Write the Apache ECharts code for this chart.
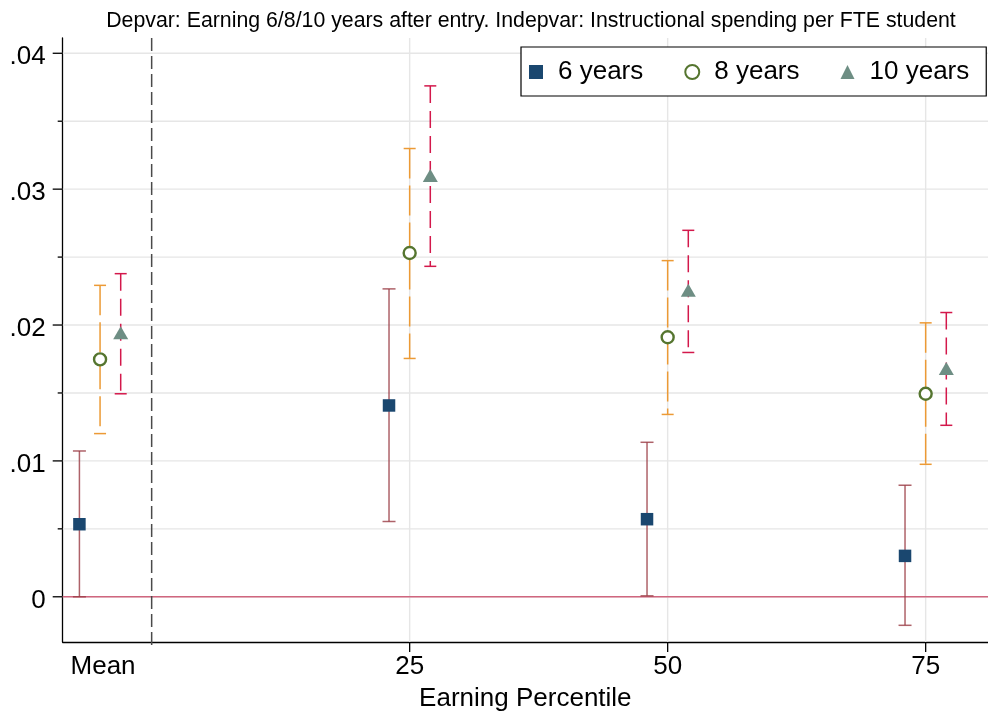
<!DOCTYPE html>
<html>
<head>
<meta charset="utf-8">
<script src="https://cdn.jsdelivr.net/npm/echarts@6/dist/echarts.min.js"></script>
<style>
html,body{margin:0;padding:0;background:#fff;overflow:hidden;}
#chart{width:988px;height:717px;}
</style>
</head>
<body>
<div id="chart"></div>
<script>
// ---- data ----
const groupLabels = ['Mean', '25', '50', '75'];
const groupX = [-5, 25, 50, 75];
const seriesNames = ['6 years', '8 years', '10 years'];
const seriesOffset = [-2, 0, 2];

const est6 = [0.00534, 0.01408, 0.00571, 0.00301];
const lo6  = [0.00000, 0.00554, 0.00007, -0.00210];
const hi6  = [0.01073, 0.02266, 0.01137, 0.00821];

const est8 = [0.01747, 0.02530, 0.01910, 0.01494];
const lo8  = [0.01201, 0.01754, 0.01342, 0.00975];
const hi8  = [0.02292, 0.03299, 0.02474, 0.02016];

const est10 = [0.01943, 0.03100, 0.02256, 0.01680];
const lo10  = [0.01494, 0.02432, 0.01798, 0.01262];
const hi10  = [0.02378, 0.03760, 0.02697, 0.02092];

const yTickVals = [0, 0.01, 0.02, 0.03, 0.04];
const yTickLabels = ['0', '.01', '.02', '.03', '.04'];
const yMinorVals = [0.005, 0.015, 0.025, 0.035];
const xTickVals = [25, 50, 75];
const refLineX = [0];
const zeroLineY = [0];

const xMin = -8.62, xMax = 81.04;
const yMin = -0.003328, yMax = 0.041124;

const titleText = 'Depvar: Earning 6/8/10 years after entry. Indepvar: Instructional spending per FTE student';
const xTitle = 'Earning Percentile';

// ---- build ----
const FONT = 'Liberation Sans, Arial, Helvetica, sans-serif';
const chart = echarts.init(document.getElementById('chart'), null, {renderer: 'canvas', width: 988, height: 717});

function xs(i) { return groupX.map(g => g + seriesOffset[i]); }
function pts(i, est) { const x = xs(i); return est.map((v, k) => [x[k], v]); }
function bars(i, lo, hi) { const x = xs(i); return lo.map((v, k) => [x[k], v, hi[k]]); }

function errRender(color, dash, cap, opacity) {
  return function (params, api) {
    const x = api.value(0), lo = api.value(1), hi = api.value(2);
    const a = api.coord([x, lo]), b = api.coord([x, hi]);
    const hw = cap / 2;
    return {
      type: 'group',
      children: [
        {type: 'line', shape: {x1: b[0], y1: b[1], x2: a[0], y2: a[1]},
         style: {stroke: color, lineWidth: 1.5, lineDash: dash, opacity: opacity}},
        {type: 'line', shape: {x1: b[0] - hw, y1: b[1], x2: b[0] + hw, y2: b[1]},
         style: {stroke: color, lineWidth: 1.5, opacity: opacity}},
        {type: 'line', shape: {x1: a[0] - hw, y1: a[1], x2: a[0] + hw, y2: a[1]},
         style: {stroke: color, lineWidth: 1.5, opacity: opacity}}
      ]
    };
  };
}

const GRID_COLOR = '#e6e6e6';

const option = {
  animation: false,
  backgroundColor: '#fff',
  title: {
    text: titleText,
    left: 526, top: 6,
    textAlign: 'center',
    textStyle: {fontFamily: FONT, fontSize: 21.3, fontWeight: 'normal', color: '#000'}
  },
  legend: {
    data: seriesNames,
    left: 521, top: 47,
    padding: [12, 17, 11, 8],
    borderColor: '#000', borderWidth: 1.2, borderRadius: 0,
    backgroundColor: '#fff',
    itemGap: 41, itemWidth: 14, itemHeight: 14,
    textStyle: {fontFamily: FONT, fontSize: 26, color: '#000', padding: [0, 0, 0, 10]}
  },
  grid: {left: 62.7, right: 0, top: 38, bottom: 74, containLabel: false},
  xAxis: {
    type: 'value', min: xMin, max: xMax,
    axisLine: {show: true, onZero: false, lineStyle: {color: '#000', width: 1.3}},
    axisTick: {show: false}, axisLabel: {show: false}, splitLine: {show: false},
    name: xTitle, nameLocation: 'middle', nameGap: 44,
    nameTextStyle: {fontFamily: FONT, fontSize: 26, color: '#000'}
  },
  yAxis: {
    type: 'value', min: yMin, max: yMax,
    axisLine: {show: true, onZero: false, lineStyle: {color: '#000', width: 1.3}},
    axisTick: {show: false}, axisLabel: {show: false}, splitLine: {show: false}
  },
  series: [
    {
      type: 'custom', silent: true, clip: false, z: 1,
      data: yTickVals.map((v, k) => [v, k, 1]).concat(yMinorVals.map(v => [v, -1, 0])),
      renderItem: function (params, api) {
        const v = api.value(0), k = api.value(1), major = api.value(2);
        const cs = params.coordSys;
        const p = api.coord([xMin, v]);
        const ch = [
          {type: 'line', shape: {x1: cs.x, y1: p[1], x2: cs.x + cs.width, y2: p[1]},
           style: {stroke: GRID_COLOR, lineWidth: 1.4}},
          {type: 'line', shape: {x1: cs.x - (major ? 10 : 5), y1: p[1], x2: cs.x, y2: p[1]},
           style: {stroke: '#000', lineWidth: 1.3}}
        ];
        if (major) {
          ch.push({type: 'text', x: cs.x - 17, y: p[1] + 4,
            style: {text: yTickLabels[k], fill: '#000', font: '26px ' + FONT,
                    align: 'right', verticalAlign: 'middle'}});
        }
        return {type: 'group', children: ch};
      }
    },
    {
      type: 'custom', silent: true, clip: false, z: 1,
      data: xTickVals.map(v => [v]),
      renderItem: function (params, api) {
        const v = api.value(0);
        const cs = params.coordSys;
        const p = api.coord([v, yMin]);
        return {type: 'group', children: [
          {type: 'line', shape: {x1: p[0], y1: cs.y, x2: p[0], y2: cs.y + cs.height},
           style: {stroke: GRID_COLOR, lineWidth: 1.4}},
          {type: 'line', shape: {x1: p[0], y1: cs.y + cs.height, x2: p[0], y2: cs.y + cs.height + 10},
           style: {stroke: '#000', lineWidth: 1.3}}
        ]};
      }
    },
    {
      type: 'custom', silent: true, clip: false, z: 3,
      data: groupX.map((v, k) => [v, k]),
      renderItem: function (params, api) {
        const v = api.value(0), k = api.value(1);
        const cs = params.coordSys;
        const p = api.coord([v, yMin]);
        return {type: 'text', x: p[0] + (k === 0 ? 3 : 0), y: cs.y + cs.height + 25,
          style: {text: groupLabels[k], fill: '#000', font: '26px ' + FONT,
                  align: 'center', verticalAlign: 'middle'}};
      }
    },
    {
      type: 'custom', silent: true, clip: false, z: 2,
      data: zeroLineY.map(v => [v]),
      renderItem: function (params, api) {
        const cs = params.coordSys;
        const p = api.coord([xMin, api.value(0)]);
        return {type: 'line', shape: {x1: cs.x, y1: p[1], x2: cs.x + cs.width, y2: p[1]},
          style: {stroke: '#d0667f', lineWidth: 1.6}};
      }
    },
    {
      type: 'custom', silent: true, clip: false, z: 2,
      data: refLineX.map(v => [v]),
      renderItem: function (params, api) {
        const cs = params.coordSys;
        const p = api.coord([api.value(0), yMin]);
        return {type: 'line', shape: {x1: p[0], y1: cs.y, x2: p[0], y2: cs.y + cs.height + 5},
          style: {stroke: '#4a4a4a', lineWidth: 1.5, lineDash: [13, 5]}};
      }
    },
    {type: 'custom', silent: true, clip: false, z: 4, data: bars(0, lo6, hi6),
     renderItem: errRender('#9a3b44', null, 13, 0.8)},
    {type: 'custom', silent: true, clip: false, z: 4, data: bars(1, lo8, hi8),
     renderItem: errRender('#ec9a35', [30, 7], 12, 1)},
    {type: 'custom', silent: true, clip: false, z: 4, data: bars(2, lo10, hi10),
     renderItem: errRender('#d3184b', [17, 8], 12, 1)},
    {name: seriesNames[0], type: 'scatter', z: 6, data: pts(0, est6),
     symbol: 'rect', symbolSize: 12.5, itemStyle: {color: '#1a476f', opacity: 1}},
    {name: seriesNames[1], type: 'scatter', z: 6, data: pts(1, est8),
     symbol: 'circle', symbolSize: 12, itemStyle: {color: '#ffffff', borderColor: '#55752f', borderWidth: 2.4, opacity: 1}},
    {name: seriesNames[2], type: 'scatter', z: 6, data: pts(2, est10),
     symbol: 'triangle', symbolSize: [15, 13], itemStyle: {color: '#6e8e84', opacity: 1}}
  ]
};
chart.setOption(option);
</script>
</body>
</html>
